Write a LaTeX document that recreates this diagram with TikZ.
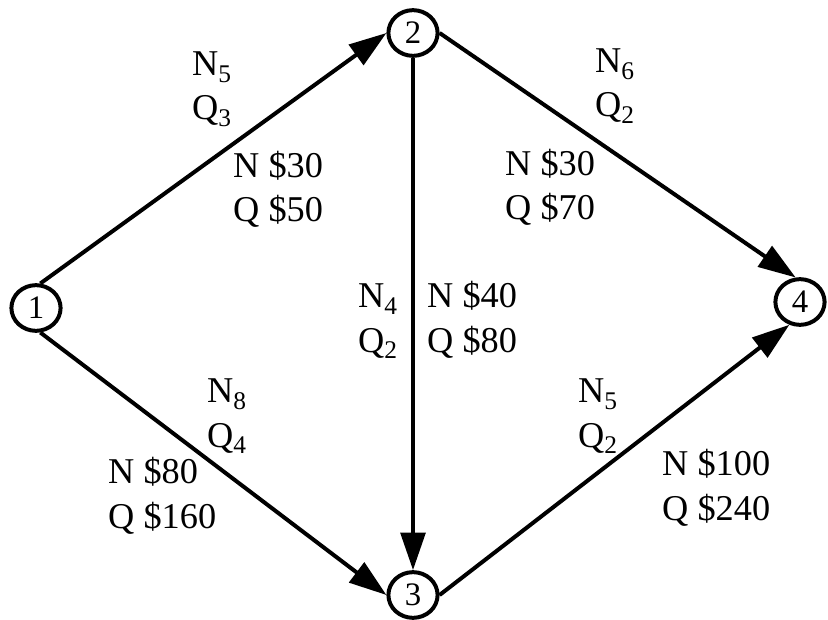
\documentclass[tikz,border=0pt]{standalone}
\usepackage{fontspec}
\setmainfont{Liberation Serif}
\usetikzlibrary{arrows.meta,shapes.geometric}
\newcommand{\sub}[2]{#1\textsubscript{#2}}

\begin{document}
\begin{tikzpicture}[x=0.03cm,y=-0.03cm,>={Triangle[length=32pt,width=21pt]},
  site/.style={ellipse,draw,line width=3.4pt,minimum width=42pt,minimum height=39pt,inner sep=0pt,font=\fontsize{28}{32}\selectfont},
  flow/.style={->,line width=3.4pt},
  tag/.style={anchor=base west,align=left,inner sep=0pt,font=\fontsize{31}{38}\selectfont}]
\useasboundingbox (0,0) rectangle (828,620);
\node[site] (n1) at (36,308) {1};
\node[site] (n2) at (413,33) {2};
\node[site] (n3) at (413,595) {3};
\node[site] (n4) at (800,302) {4};
\draw[flow] (n1.80) -- (n2.west);
\draw[flow] (n1.-80) -- (n3.west);
\draw[flow] (n2.south) -- (n3.north);
\draw[flow] (n2.east) -- (n4.100);
\draw[flow] (n3.east) -- (n4.-115);
\node[tag] (t12) at (192,120) {\sub{N}{5}\\\sub{Q}{3}};
\node[tag] (c12) at (233,222) {N \$30\\Q \$50};
\node[tag] (t24) at (595,117) {\sub{N}{6}\\\sub{Q}{2}};
\node[tag] (c24) at (505,220) {N \$30\\Q \$70};
\node[tag] (t23) at (358,352) {\sub{N}{4}\\\sub{Q}{2}};
\node[tag] (c23) at (427,352) {N \$40\\Q \$80};
\node[tag] (t13) at (207,447) {\sub{N}{8}\\\sub{Q}{4}};
\node[tag] (c13) at (108,528) {N \$80\\Q \$160};
\node[tag] (t34) at (578,447) {\sub{N}{5}\\\sub{Q}{2}};
\node[tag] (c34) at (662,520) {N \$100\\Q \$240};
\end{tikzpicture}
\end{document}
